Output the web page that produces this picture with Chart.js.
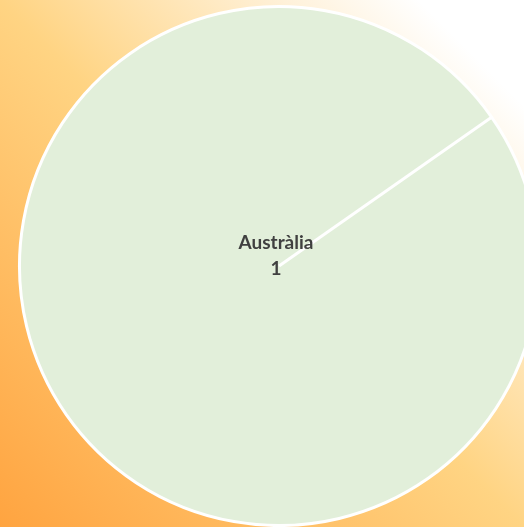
<!DOCTYPE html>
<html>
<head>
<meta charset="utf-8">
<script src="https://cdn.jsdelivr.net/npm/chart.js@4"></script>
<style>
  html, body { margin: 0; padding: 0; width: 524px; height: 527px; overflow: hidden; }
  body { background: linear-gradient(to top right, #FFA440 0%, #FFD483 50%, #FFF2DC 78%, #FFFFFF 90%); }
  #wrap { position: absolute; left: 0; top: 0; width: 560px; height: 527px; }
</style>
</head>
<body>
<div id="wrap"><canvas id="c" width="560" height="527"></canvas></div>
<script>
const categories = ["Austràlia"];
const values = [1];
const sliceColors = ["#E2EFDA"];

const centerLabels = {
  id: 'centerLabels',
  afterDatasetsDraw(chart) {
    const ctx = chart.ctx;
    const meta = chart.getDatasetMeta(0);
    meta.data.forEach((arc, i) => {
      ctx.save();
      ctx.fillStyle = '#404040';
      ctx.font = 'bold 19px Lato';
      ctx.textAlign = 'center';
      ctx.textBaseline = 'alphabetic';
      ctx.fillText(chart.data.labels[i], arc.x - 3, arc.y - 17);
      ctx.fillText(String(chart.data.datasets[0].data[i]), arc.x - 3, arc.y + 9);
      ctx.restore();
    });
  }
};

new Chart(document.getElementById('c'), {
  type: 'pie',
  data: {
    labels: categories,
    datasets: [{
      data: values,
      backgroundColor: sliceColors,
      borderColor: '#FFFFFF',
      borderWidth: 3
    }]
  },
  options: {
    responsive: false,
    devicePixelRatio: 1,
    animation: false,
    rotation: 55,
    layout: { padding: { left: 18, top: 5, right: 20, bottom: 0 } },
    plugins: {
      legend: { display: false },
      tooltip: { enabled: false },
      title: { display: false }
    }
  },
  plugins: [centerLabels]
});
</script>
</body>
</html>
